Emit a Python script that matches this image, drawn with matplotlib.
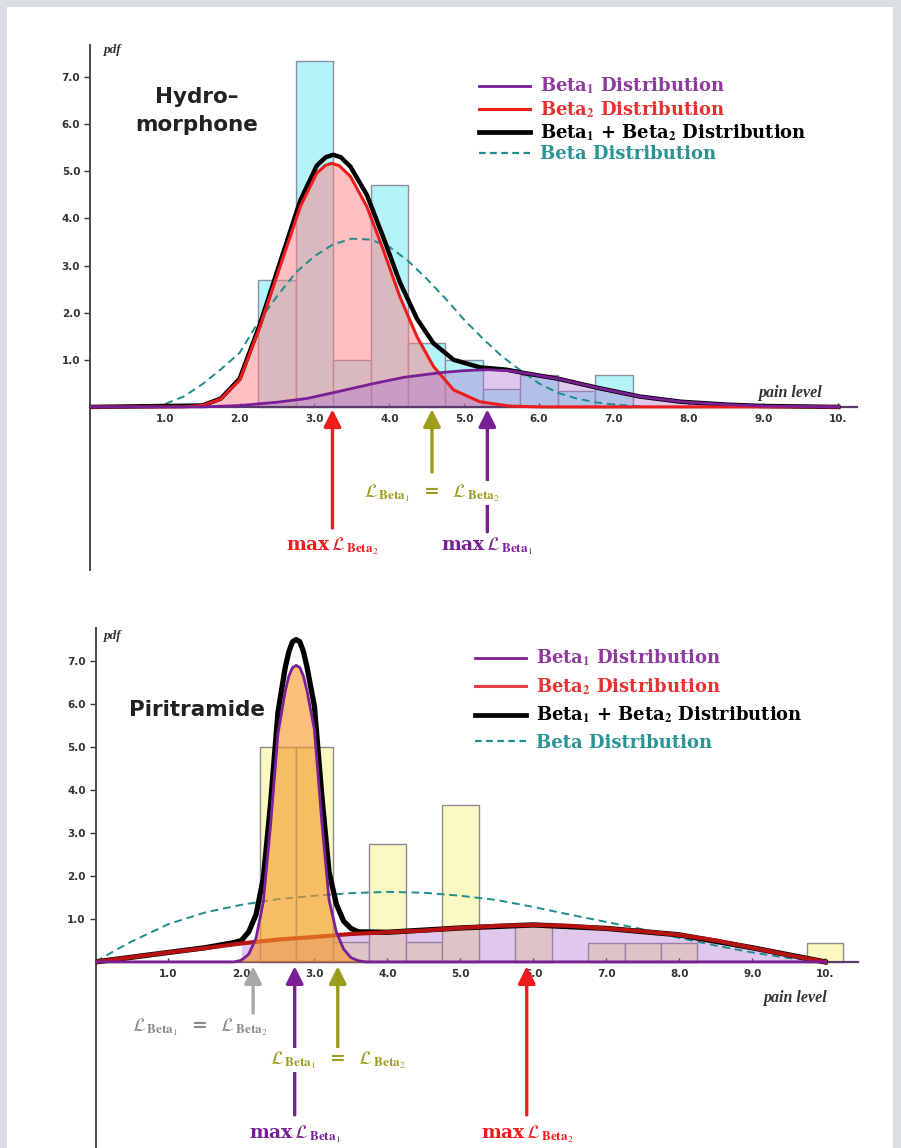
import matplotlib.pyplot as plt
from matplotlib.lines import Line2D
from matplotlib.patches import Rectangle

plt.rcParams['mathtext.fontset'] = 'stix'

# ---------------- Hydromorphone (top) ----------------
hyd_bins = [2.5, 3.0, 3.5, 4.0, 4.5, 5.0, 5.5, 6.0, 6.5, 7.0]
hyd_hist = [2.7, 7.35, 1.0, 4.7, 1.35, 1.0, 0.38, 0.68, 0.34, 0.68]

hyd_b2_x = [0, 1.25, 1.5, 1.75, 2.0, 2.27, 2.54, 2.81, 3.03, 3.15, 3.23, 3.33,
            3.48, 3.7, 3.92, 4.14, 4.37, 4.59, 4.86, 5.21, 5.6, 6.0, 10.0]
hyd_b2_y = [0, 0.0, 0.03, 0.17, 0.57, 1.7, 2.98, 4.25, 4.96, 5.13, 5.17, 5.12,
            4.89, 4.25, 3.33, 2.34, 1.49, 0.86, 0.36, 0.11, 0.02, 0.0, 0.0]

hyd_b1_x = [0, 1.5, 2.0, 2.5, 2.9, 3.3, 3.8, 4.2, 4.7, 5.0, 5.3, 5.6, 5.8,
            6.25, 6.8, 7.35, 7.9, 8.5, 9.0, 10.0]
hyd_b1_y = [0, 0.0, 0.03, 0.1, 0.18, 0.32, 0.5, 0.63, 0.73, 0.77, 0.79, 0.77,
            0.72, 0.6, 0.4, 0.22, 0.11, 0.05, 0.02, 0.0]

hyd_sum_x = [0, 1.5, 1.75, 2.0, 2.27, 2.54, 2.81, 3.03, 3.15, 3.25, 3.35, 3.48,
             3.7, 3.92, 4.14, 4.37, 4.59, 4.86, 5.21, 5.57, 5.8, 6.25, 6.8,
             7.35, 7.9, 8.5, 9.0, 10.0]
hyd_sum_y = [0, 0.03, 0.18, 0.6, 1.75, 3.07, 4.38, 5.12, 5.3, 5.35, 5.3, 5.1,
             4.5, 3.6, 2.65, 1.87, 1.35, 1.0, 0.84, 0.79, 0.72, 0.6, 0.4,
             0.22, 0.11, 0.05, 0.02, 0.0]

hyd_beta_x = [0, 0.8, 1.0, 1.25, 1.5, 1.75, 2.0, 2.25, 2.5, 2.75, 3.0, 3.25,
              3.5, 3.75, 4.0, 4.25, 4.5, 4.75, 5.0, 5.25, 5.5, 5.75, 6.0,
              6.25, 6.5, 6.75, 7.0, 7.5, 10.0]
hyd_beta_y = [0, 0.0, 0.06, 0.22, 0.48, 0.8, 1.15, 1.8, 2.35, 2.85, 3.2, 3.45,
              3.57, 3.55, 3.4, 3.1, 2.72, 2.3, 1.85, 1.45, 1.08, 0.78, 0.5,
              0.3, 0.18, 0.1, 0.05, 0.0, 0.0]

hyd_max_b2 = 3.24
hyd_equal = 4.57
hyd_max_b1 = 5.31

# ---------------- Piritramide (bottom) ----------------
pir_bins = [2.5, 3.0, 3.5, 4.0, 4.5, 5.0, 6.0, 7.0, 7.5, 8.0, 10.0]
pir_hist = [5.0, 5.0, 0.47, 2.74, 0.47, 3.65, 0.9, 0.45, 0.45, 0.45, 0.45]

pir_b1_x = [0, 1.9, 2.0, 2.1, 2.2, 2.3, 2.4, 2.5, 2.6, 2.65, 2.7, 2.75, 2.8,
            2.85, 2.9, 3.0, 3.1, 3.2, 3.3, 3.4, 3.5, 3.6, 3.7, 10.0]
pir_b1_y = [0, 0.0, 0.04, 0.18, 0.55, 1.4, 3.2, 5.3, 6.3, 6.65, 6.85, 6.9,
            6.85, 6.65, 6.3, 5.4, 3.3, 1.45, 0.7, 0.3, 0.1, 0.03, 0.0, 0.0]

pir_b2_x = [0, 0.5, 1.0, 1.5, 2.0, 2.5, 3.0, 3.5, 4.0, 4.5, 5.0, 5.5, 6.0,
            6.5, 7.0, 7.5, 8.0, 8.5, 9.0, 9.5, 9.75, 10.0]
pir_b2_y = [0, 0.11, 0.22, 0.32, 0.43, 0.52, 0.58, 0.65, 0.69, 0.73, 0.79,
            0.84, 0.86, 0.84, 0.78, 0.71, 0.63, 0.5, 0.33, 0.16, 0.08, 0.0]

pir_sum_x = [0, 0.5, 1.0, 1.5, 1.9, 2.0, 2.1, 2.2, 2.3, 2.4, 2.5, 2.6, 2.65,
             2.7, 2.75, 2.8, 2.85, 2.9, 3.0, 3.1, 3.2, 3.3, 3.4, 3.5, 3.6,
             4.0, 5.0, 6.0, 7.0, 8.0, 9.0, 10.0]
pir_sum_y = [0, 0.11, 0.22, 0.33, 0.45, 0.5, 0.7, 1.1, 1.95, 3.7, 5.8, 6.85,
             7.22, 7.45, 7.5, 7.45, 7.22, 6.85, 5.95, 3.9, 2.1, 1.35, 0.95,
             0.78, 0.7, 0.69, 0.79, 0.86, 0.78, 0.63, 0.33, 0.0]

pir_beta_x = [0, 0.25, 0.5, 1.0, 1.5, 2.0, 2.5, 3.0, 3.5, 4.0, 4.5, 5.0, 5.5,
              6.0, 6.5, 7.0, 7.5, 8.0, 8.5, 9.0, 9.5, 10.0]
pir_beta_y = [0, 0.25, 0.48, 0.88, 1.15, 1.33, 1.46, 1.54, 1.6, 1.63, 1.61,
              1.54, 1.44, 1.28, 1.1, 0.93, 0.76, 0.56, 0.38, 0.22, 0.09, 0.0]

pir_equal_a = 2.16
pir_max_b1 = 2.73
pir_equal_b = 3.32
pir_max_b2 = 5.91

xticks = [1, 2, 3, 4, 5, 6, 7, 8, 9, 10]
xtick_labels = ['1.0', '2.0', '3.0', '4.0', '5.0', '6.0', '7.0', '8.0', '9.0', '10.']
yticks = [1, 2, 3, 4, 5, 6, 7]
ytick_labels = ['1.0', '2.0', '3.0', '4.0', '5.0', '6.0', '7.0']

C_PURPLE = '#7a1f96'
C_RED = '#ee1c1c'
C_DRED = '#b51212'
C_TEAL = '#208c8c'
C_OLIVE = '#9c9c1c'
C_GRAY = '#a8a8a8'

LEG_PURPLE = '#8e3a9e'
LEG_RED = '#e83232'
LEG_TEAL = '#2a9393'

fig = plt.figure(figsize=(9.01, 11.48), dpi=100, facecolor='#dadfe1')
fig.patches.append(Rectangle((7 / 901, 0), 886 / 901, 1 - 7 / 1148,
                             transform=fig.transFigure, facecolor='white',
                             edgecolor='none', zorder=-5))

ax1 = fig.add_axes([90 / 901, 1 - 570 / 1148, 767 / 901, 525 / 1148])
ax2 = fig.add_axes([95.5 / 901, 0, 762.5 / 901, 520 / 1148])


def style_axes(ax, ylo, yhi, xhi):
    ax.patch.set_visible(False)
    ax.set_xlim(0, xhi)
    ax.set_ylim(ylo, yhi)
    for s in ['top', 'right']:
        ax.spines[s].set_visible(False)
    ax.spines['left'].set_position(('data', 0))
    ax.spines['bottom'].set_position(('data', 0))
    ax.spines['left'].set_color('#4a4a4a')
    ax.spines['left'].set_linewidth(1.4)
    ax.spines['bottom'].set_color('#5a3a6a')
    ax.spines['bottom'].set_linewidth(1.6)
    ax.set_xticks(xticks)
    ax.set_xticklabels(xtick_labels)
    ax.set_yticks(yticks)
    ax.set_yticklabels(ytick_labels)
    ax.tick_params(axis='x', direction='in', length=3, width=1, pad=5,
                   colors='#333333', labelsize=7.5)
    ax.tick_params(axis='y', direction='out', length=4, width=1, pad=3,
                   colors='#333333', labelsize=7.5)
    for lab in ax.get_xticklabels() + ax.get_yticklabels():
        lab.set_fontweight('bold')


def arrow(ax, x, y_tail, color, y_tip=-0.05):
    ax.annotate('', xy=(x, y_tip), xytext=(x, y_tail),
                arrowprops=dict(arrowstyle='-|>', color=color, lw=2.4,
                                mutation_scale=26, shrinkA=0, shrinkB=0),
                zorder=8, annotation_clip=False)


def mark(ax, x, y, text, color, size=13.5):
    ax.text(x, y, text, color=color, fontsize=size, ha='center', va='center',
            zorder=9, clip_on=False, family='DejaVu Serif', fontweight='bold',
            bbox=dict(facecolor='white', edgecolor='none', pad=1.0))


max_b1 = r'max$\,\mathcal{L}_{\,\mathbf{Beta}_{1}}$'
max_b2 = r'max$\,\mathcal{L}_{\,\mathbf{Beta}_{2}}$'
equal = r'$\mathcal{L}_{\,\mathbf{Beta}_{1}}$  =  $\mathcal{L}_{\,\mathbf{Beta}_{2}}$'

# ---- top panel ----
style_axes(ax1, -3.46, 7.68, 10.25)
ax1.bar(hyd_bins, hyd_hist, width=0.5, color='#b4f3f8', edgecolor='#8791a0',
        linewidth=1, zorder=1)
ax1.fill_between(hyd_b2_x, hyd_b2_y, color='#ff7e86', alpha=0.5, lw=0, zorder=2)
ax1.fill_between(hyd_b1_x, hyd_b1_y, color='#b070d0', alpha=0.38, lw=0, zorder=2)
ax1.plot(hyd_beta_x, hyd_beta_y, color=C_TEAL, lw=1.4, ls=(0, (4, 2.5)), zorder=3)
ax1.plot(hyd_sum_x, hyd_sum_y, color='black', lw=3.2, zorder=4,
         solid_joinstyle='round')
ax1.plot(hyd_b2_x, hyd_b2_y, color=C_RED, lw=2.2, zorder=5,
         solid_joinstyle='round')
ax1.plot(hyd_b1_x, hyd_b1_y, color=C_PURPLE, lw=2.0, zorder=5,
         solid_joinstyle='round')

arrow(ax1, hyd_max_b2, -2.57, C_RED)
arrow(ax1, hyd_max_b1, -2.65, C_PURPLE)
arrow(ax1, hyd_equal, -1.38, C_OLIVE)
mark(ax1, hyd_max_b2, -2.95, max_b2, C_RED)
mark(ax1, hyd_max_b1, -2.95, max_b1, C_PURPLE)
mark(ax1, hyd_equal, -1.83, equal, C_OLIVE)

ax1.text(1.43, 6.28, 'Hydro\u2013\nmorphone', fontsize=15.5, fontweight='bold',
         color='#222222', ha='center', va='center', linespacing=1.55,
         family='DejaVu Sans', zorder=6)
ax1.text(0.3, 7.58, 'pdf', fontsize=9.5, style='italic', fontweight='bold',
         family='Liberation Serif', color='#333333', ha='center', va='center')
ax1.text(9.36, 0.3, 'pain level', fontsize=11.5, style='italic',
         fontweight='bold', family='Liberation Serif', color='#333333',
         ha='center', va='center')

# ---- bottom panel ----
style_axes(ax2, -4.33, 7.77, 10.45)
ax2.bar(pir_bins, pir_hist, width=0.5, color='#fbf8c2', edgecolor='#8a8a90',
        linewidth=1, zorder=1)
ax2.fill_between(pir_b2_x, pir_b2_y, where=[v >= 2.0 for v in pir_b2_x],
                 color='#b070d0', alpha=0.38, lw=0, zorder=2)
ax2.plot(pir_beta_x, pir_beta_y, color=C_TEAL, lw=1.4, ls=(0, (4, 2.5)), zorder=3)
ax2.plot(pir_sum_x, pir_sum_y, color='black', lw=3.8, zorder=3,
         solid_joinstyle='round')
ax2.plot(pir_b2_x, pir_b2_y, color=C_DRED, lw=3.0, zorder=3,
         solid_joinstyle='round')
ax2.fill_between(pir_b1_x, pir_b1_y, color='#f59a2a', alpha=0.62, lw=0, zorder=4)
ax2.plot(pir_b1_x, pir_b1_y, color=C_PURPLE, lw=2.0, zorder=5,
         solid_joinstyle='round')

arrow(ax2, pir_equal_a, -1.19, C_GRAY, y_tip=-0.1)
arrow(ax2, pir_max_b1, -3.56, C_PURPLE, y_tip=-0.1)
arrow(ax2, pir_equal_b, -1.98, C_OLIVE, y_tip=-0.1)
arrow(ax2, pir_max_b2, -3.56, C_RED, y_tip=-0.1)
mark(ax2, 1.43, -1.53, equal, '#8a8a8a')
mark(ax2, pir_equal_b, -2.28, equal, C_OLIVE)
mark(ax2, pir_max_b1, -4.02, max_b1, C_PURPLE)
mark(ax2, pir_max_b2, -4.02, max_b2, C_RED)

ax2.text(1.39, 5.86, 'Piritramide', fontsize=15.5, fontweight='bold',
         color='#222222', ha='center', va='center', family='DejaVu Sans',
         zorder=6)
ax2.text(0.23, 7.58, 'pdf', fontsize=9.5, style='italic', fontweight='bold',
         family='Liberation Serif', color='#333333', ha='center', va='center')
ax2.text(9.58, -0.84, 'pain level', fontsize=11.5, style='italic',
         fontweight='bold', family='Liberation Serif', color='#333333',
         ha='center', va='center')

# ---- legends ----
leg_labels = [r'Beta$_{\mathbf{1}}$ Distribution',
              r'Beta$_{\mathbf{2}}$ Distribution',
              r'Beta$_{\mathbf{1}}$ + Beta$_{\mathbf{2}}$ Distribution',
              'Beta Distribution']
leg_colors = [LEG_PURPLE, LEG_RED, 'black', LEG_TEAL]


def legend(ax, anchor, spacing, red_color):
    handles = [Line2D([], [], color=C_PURPLE, lw=2.0),
               Line2D([], [], color=red_color, lw=2.2),
               Line2D([], [], color='black', lw=3.4),
               Line2D([], [], color=C_TEAL, lw=1.6, ls=(0, (3, 2)))]
    leg = fig.legend(handles, leg_labels, loc='upper left',
                     bbox_to_anchor=anchor, frameon=False, borderpad=0,
                     handlelength=2.8, handletextpad=0.6,
                     labelspacing=spacing,
                     prop=dict(family='DejaVu Serif', weight='bold',
                               size=13))
    for t, c in zip(leg.get_texts(), leg_colors):
        t.set_color(c)


legend(ax1, (470 / 901, 1 - 67 / 1148), 0.15, C_RED)
legend(ax2, (466 / 901, 1 - 639 / 1148), 0.45, '#e04040')

fig.savefig('out.png', dpi=100, facecolor=fig.get_facecolor())
